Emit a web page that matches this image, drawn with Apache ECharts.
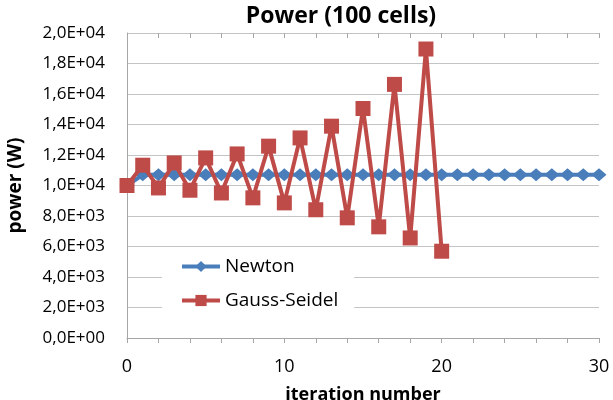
<!DOCTYPE html>
<html><head><meta charset="utf-8">
<script src="https://cdn.jsdelivr.net/npm/echarts@6/dist/echarts.min.js"></script>
<style>html,body{margin:0;padding:0;background:#fff}#c{width:613px;height:400px}</style>
</head><body><div id="c"></div>
<script>
const iterations = Array.from({length:31},(_,i)=>i);
const newton = [10000,10700,10700,10700,10700,10700,10700,10700,10700,10700,10700,10700,10700,10700,10700,10700,10700,10700,10700,10700,10700,10700,10700,10700,10700,10700,10700,10700,10700,10700,10700];
const gaussSeidel = [10000,11330,9840,11480,9690,11810,9510,12070,9190,12580,8860,13120,8410,13890,7880,15050,7290,16630,6560,18950,5690];
const titleText = 'Power (100 cells)';
const xName = 'iteration number';
const yName = 'power (W)';
const seriesNames = ['Newton','Gauss-Seidel'];

function fmtE(v){
  let s = Number(v).toExponential(1);
  let [m,e] = s.split('e');
  let sign = e[0]==='-'?'-':'+';
  let n = Math.abs(parseInt(e,10));
  return m.replace('.',',')+'E'+sign+(n<10?'0'+n:n);
}
const F = '"Open Sans", Lato, sans-serif';
const AX = '#a6a6a6';
const chart = echarts.init(document.getElementById('c'));
chart.setOption({
  animation:false,
  textStyle:{fontFamily:F},
  title:{text:titleText,left:336,textAlign:'center',top:0,textStyle:{fontFamily:F,fontSize:23,fontWeight:'bold',color:'#000'}},
  grid:{left:127,right:14,top:33,bottom:62,containLabel:false,outerBoundsMode:'none'},
  legend:{
    orient:'vertical',left:162,top:250,itemGap:15,itemWidth:38,itemHeight:14,
    backgroundColor:'#fff',padding:[7,16,14,18],
    textStyle:{fontFamily:F,fontSize:19,color:'#000'},
    lineStyle:{width:4},
    data:seriesNames
  },
  xAxis:[{
    type:'value',min:0,max:30,interval:2,
    name:xName,nameLocation:'middle',nameGap:48,
    nameTextStyle:{fontFamily:F,fontSize:18,fontWeight:'bold',color:'#000'},
    axisLine:{lineStyle:{color:AX}},
    axisTick:{show:true,length:5,lineStyle:{color:AX}},
    splitLine:{show:false},
    axisLabel:{fontFamily:F,fontSize:18,color:'#000',margin:20,formatter:v=>v%10===0?String(v):''}
  },{
    type:'value',min:0,max:30,interval:2,position:'top',
    axisLine:{show:false,onZero:true},
    axisTick:{show:true,inside:true,length:5,lineStyle:{color:AX}},
    splitLine:{show:false},axisLabel:{show:false}
  }],
  yAxis:{
    type:'value',min:0,max:20000,interval:2000,
    name:yName,nameLocation:'middle',nameGap:102,nameRotate:90,
    nameTextStyle:{fontFamily:F,fontSize:19,fontWeight:'bold',color:'#000'},
    axisLine:{show:true,lineStyle:{color:AX}},
    axisTick:{show:false},
    splitLine:{lineStyle:{color:'#c4c4c4',width:1}},
    axisLabel:{fontFamily:F,fontSize:17,color:'#000',margin:22,formatter:fmtE}
  },
  series:[
    {name:seriesNames[0],type:'line',data:newton.map((v,i)=>[iterations[i],v]),
     symbol:'diamond',symbolSize:[15,13],itemStyle:{color:'#4a7ebb'},lineStyle:{color:'#4a7ebb',width:4},z:2},
    {name:seriesNames[1],type:'line',data:gaussSeidel.map((v,i)=>[iterations[i],v]),
     symbol:'rect',symbolSize:15,itemStyle:{color:'#be4b48'},lineStyle:{color:'#be4b48',width:4},z:3}
  ]
});
</script></body></html>
